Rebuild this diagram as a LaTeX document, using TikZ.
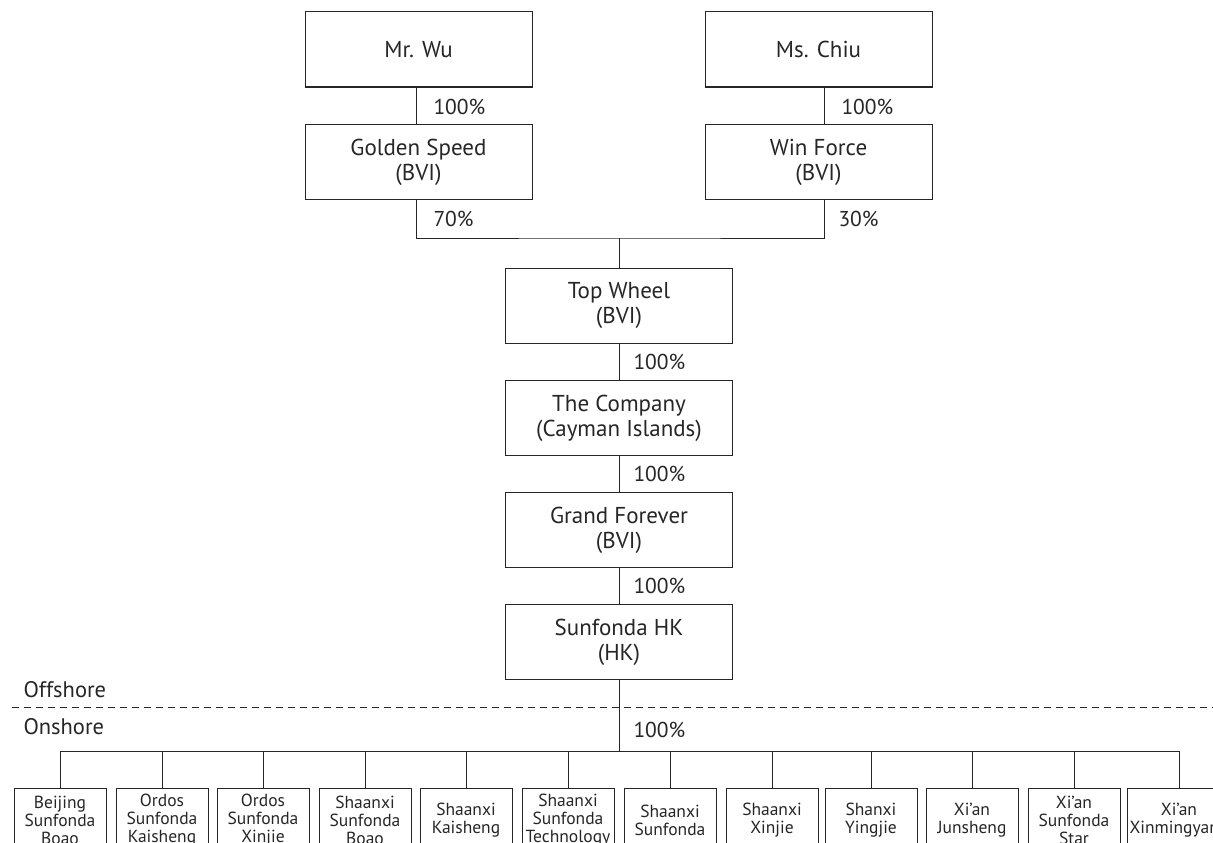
\documentclass[tikz,border=0pt]{standalone}
\usepackage{fontspec}
\setmainfont{PT Sans}
\begin{document}
\begin{tikzpicture}[x=1pt,y=-1pt,
  color=black!85, line width=1pt,
  bigbox/.style={draw, minimum width=227pt, minimum height=75pt, align=center, inner sep=0pt, font=\fontsize{23}{25}\selectfont},
  smallbox/.style={draw, minimum width=92pt, minimum height=64pt, align=center, inner sep=0pt, font=\fontsize{17.5}{18}\selectfont},
  pct/.style={anchor=west, inner sep=0pt, font=\fontsize{21.5}{26}\selectfont},
  zone/.style={anchor=west, inner sep=0pt, font=\fontsize{22.5}{26}\selectfont}]
\useasboundingbox (0,0) rectangle (1213,843);
\clip (0,0) rectangle (1213,843);

% top owners
\node[bigbox] (wu) at (418.5,49.5) {Mr. Wu};
\node[bigbox] (chiu) at (818.5,49.5) {Ms. Chiu};
\node[bigbox] (gs) at (418.5,162) {Golden Speed\\(BVI)};
\node[bigbox] (wf) at (818.5,162) {Win Force\\(BVI)};
\node[bigbox] (tw) at (619,305.5) {Top Wheel\\(BVI)};
\node[bigbox] (co) at (619,418) {The Company\\(Cayman Islands)};
\node[bigbox] (gf) at (619,530) {Grand Forever\\(BVI)};
\node[bigbox] (hk) at (619,642) {Sunfonda HK\\(HK)};

% connectors top
\draw ([xshift=-2.5pt]wu.south) -- ([xshift=-2.5pt]gs.north);
\draw ([xshift=5.5pt]chiu.south) -- ([xshift=5.5pt]wf.north);
\coordinate (j) at (619,238);
\draw ([xshift=-2.5pt]gs.south) |- (j) -| ([xshift=5.5pt]wf.south);
\draw (j) -- (tw.north);
\draw (tw.south) -- (co.north);
\draw (co.south) -- (gf.north);
\draw (gf.south) -- (hk.north);

% percentages
\node[pct] (p1) at (433,107) {100\%};
\node[pct] (p2) at (841,107) {100\%};
\node[pct] (p3) at (433,219) {70\%};
\node[pct] (p4) at (838,219) {30\%};
\node[pct] (p5) at (633,362) {100\%};
\node[pct] (p6) at (633,474) {100\%};
\node[pct] (p7) at (633,586) {100\%};
\node[pct] (p8) at (633,730) {100\%};

% offshore / onshore
\node[zone] (off) at (23,690) {Offshore};
\node[zone] (on) at (23,727) {Onshore};
\coordinate (dl) at (12,707);
\coordinate (dr) at (1213,707);
\draw[dash pattern=on 7pt off 5pt] (dl) -- (dr);

% subsidiaries
\node[smallbox] (c1) at (60,820) {Beijing\\Sunfonda\\Boao};
\node[smallbox] (c2) at (162,820) {Ordos\\Sunfonda\\Kaisheng};
\node[smallbox] (c3) at (263,820) {Ordos\\Sunfonda\\Xinjie};
\node[smallbox] (c4) at (365,820) {Shaanxi\\Sunfonda\\Boao};
\node[smallbox] (c5) at (466,820) {Shaanxi\\Kaisheng};
\node[smallbox] (c6) at (568,820) {Shaanxi\\Sunfonda\\Technology};
\node[smallbox] (c7) at (670,820) {Shaanxi\\Sunfonda};
\node[smallbox] (c8) at (772,820) {Shaanxi\\Xinjie};
\node[smallbox] (c9) at (871,820) {Shanxi\\Yingjie};
\node[smallbox] (c10) at (972,820) {Xi'an\\Junsheng};
\node[smallbox] (c11) at (1074,820) {Xi'an\\Sunfonda\\Star};
\node[smallbox, minimum width=104pt] (c12) at (1179,820) {Xi'an\\Xinmingyang};

\coordinate (bus) at (619,751);
\draw (hk.south) -- (bus);
\draw (c1.north |- bus) -- (c12.north |- bus);
\foreach \i in {1,...,12} {
  \draw (c\i.north) -- (c\i.north |- bus);
}
\end{tikzpicture}
\end{document}
